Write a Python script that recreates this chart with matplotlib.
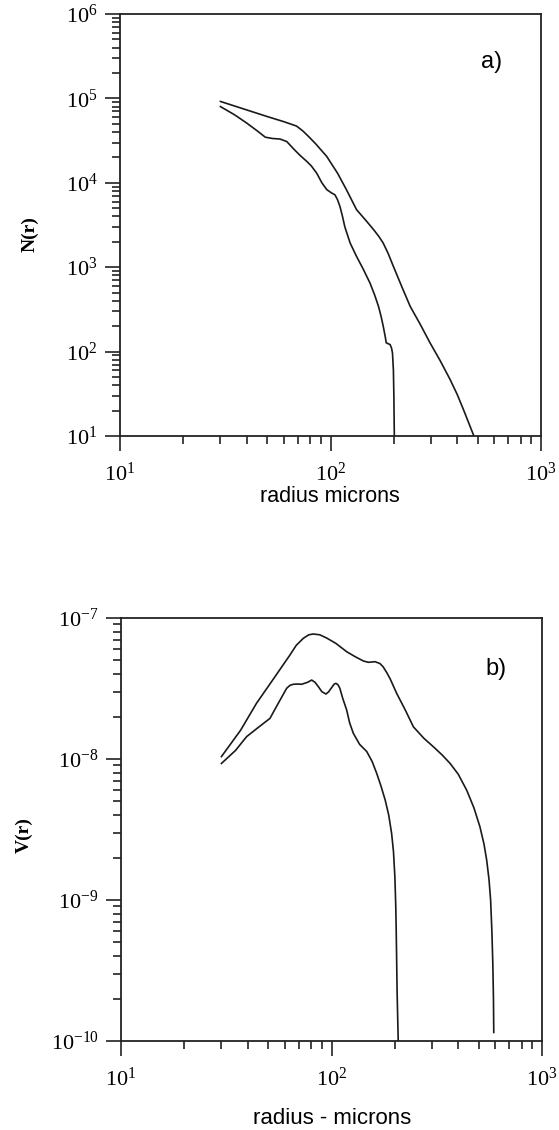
import numpy as np
import matplotlib
matplotlib.use("Agg")
import matplotlib.pyplot as plt
from matplotlib.ticker import LogLocator, FuncFormatter, NullFormatter

plt.rcParams["font.family"] = ["Liberation Serif", "DejaVu Serif"]
plt.rcParams["mathtext.fontset"] = "custom"
plt.rcParams["mathtext.rm"] = "Liberation Serif"
plt.rcParams["mathtext.it"] = "Liberation Serif:italic"
plt.rcParams["mathtext.bf"] = "Liberation Serif:bold"
plt.rcParams["axes.unicode_minus"] = False

# Panel a) number distribution N(r)
radius_n_upper = [30, 40, 50, 60, 69, 74, 79, 85, 96, 108, 119, 133, 147, 160, 170,
                  178, 188, 199, 218, 239, 267, 297, 332, 370, 400, 428, 455, 480]
n_upper = [9.2e4, 7.3e4, 6.1e4, 5.3e4, 4.7e4, 4.1e4, 3.5e4, 2.9e4, 2.05e4, 1.3e4,
           8.3e3, 4.8e3, 3.6e3, 2.8e3, 2.3e3, 1.93e3, 1.45e3, 1.02e3, 590, 344, 210,
           127, 78, 46.7, 31, 20.6, 14, 10]

radius_n_lower = [30, 35, 40, 45, 49, 53, 57.6, 62, 67, 72, 77, 81, 86, 91, 96, 101,
                  105, 108, 111, 114, 117, 124, 133, 143, 154, 162, 169, 174, 178,
                  182, 184, 188, 192, 195, 197, 199, 200, 201]
n_lower = [8.0e4, 6.4e4, 5.1e4, 4.1e4, 3.47e4, 3.35e4, 3.3e4, 3.08e4, 2.5e4, 2.09e4,
           1.8e4, 1.59e4, 1.3e4, 1.0e4, 8.3e3, 7.6e3, 7.2e3, 6.3e3, 5.2e3, 4.0e3,
           3.0e3, 1.93e3, 1.34e3, 950, 650, 470, 344, 260, 200, 150, 127, 124, 121,
           110, 96, 60, 30, 10]

# Panel b) volume distribution V(r)
radius_v_upper = [30, 37, 44, 53, 63.5, 68, 73.5, 78, 82, 88, 95, 105, 118, 130, 142,
                  150, 161, 170, 176, 183, 190, 204, 225, 245, 275, 305, 335, 366,
                  400, 439, 475, 507, 530, 546, 560, 570, 578, 584, 588, 590]
v_upper = [1.04e-8, 1.6e-8, 2.48e-8, 3.7e-8, 5.47e-8, 6.4e-8, 7.18e-8, 7.6e-8, 7.7e-8,
           7.6e-8, 7.2e-8, 6.6e-8, 5.77e-8, 5.3e-8, 4.95e-8, 4.85e-8, 4.9e-8, 4.75e-8,
           4.5e-8, 4.1e-8, 3.7e-8, 2.92e-8, 2.2e-8, 1.69e-8, 1.4e-8, 1.22e-8,
           1.07e-8, 9.3e-9, 7.8e-9, 6.0e-9, 4.5e-9, 3.31e-9, 2.5e-9, 1.92e-9,
           1.4e-9, 1.0e-9, 6e-10, 3.5e-10, 2.0e-10, 1.15e-10]

radius_v_lower = [30, 35, 39.5, 45, 51, 56, 61.2, 63.5, 65.9, 69, 72.2, 77, 80.5, 83.5,
                  86.6, 90, 94.1, 97, 100, 103, 105, 107.5, 109.6, 113, 118, 122,
                  127, 136, 147, 156, 164, 172, 180, 187, 193, 197, 200, 202, 203,
                  205, 207.5]
v_lower = [9.3e-9, 1.15e-8, 1.44e-8, 1.68e-8, 1.94e-8, 2.5e-8, 3.17e-8, 3.33e-8,
           3.39e-8, 3.4e-8, 3.39e-8, 3.5e-8, 3.63e-8, 3.5e-8, 3.26e-8, 3.0e-8,
           2.89e-8, 3.0e-8, 3.2e-8, 3.4e-8, 3.44e-8, 3.35e-8, 3.17e-8, 2.7e-8,
           2.23e-8, 1.8e-8, 1.52e-8, 1.27e-8, 1.13e-8, 9.6e-9, 7.9e-9, 6.4e-9,
           5.1e-9, 4.0e-9, 2.97e-9, 2.2e-9, 1.46e-9, 9e-10, 6e-10, 2.2e-10, 1.0e-10]

x_limits = (10, 1000)
n_limits = (10, 1e6)
v_limits = (1e-10, 1e-7)

fig = plt.figure(figsize=(5.59, 11.30), dpi=100)
ax_a = fig.add_axes([120 / 559, 1 - 436 / 1130, 421 / 559, 422 / 1130])
ax_b = fig.add_axes([121 / 559, 1 - 1041 / 1130, 421 / 559, 423 / 1130])

power_fmt = FuncFormatter(lambda v, _: r"$\mathregular{10^{%d}}$" % round(np.log10(v)))


def style_axes(ax):
    ax.set_xscale("log")
    ax.set_yscale("log")
    for sp in ax.spines.values():
        sp.set_linewidth(1.3)
        sp.set_color("#222222")
    ax.xaxis.set_major_locator(LogLocator(base=10, numticks=10))
    ax.xaxis.set_minor_locator(LogLocator(base=10, subs=np.arange(2, 10), numticks=20))
    ax.yaxis.set_major_locator(LogLocator(base=10, numticks=10))
    ax.yaxis.set_minor_locator(LogLocator(base=10, subs=np.arange(2, 10), numticks=20))
    ax.xaxis.set_major_formatter(power_fmt)
    ax.yaxis.set_major_formatter(power_fmt)
    ax.xaxis.set_minor_formatter(NullFormatter())
    ax.yaxis.set_minor_formatter(NullFormatter())
    ax.tick_params(which="both", direction="out", top=False, right=False,
                   color="#222222", width=1.2)
    ax.tick_params(which="major", length=11, labelsize=16)
    ax.tick_params(which="minor", length=6)
    ax.tick_params(axis="x", which="major", pad=8)
    ax.tick_params(axis="y", which="major", pad=5)


style_axes(ax_a)
ax_a.plot(radius_n_upper, n_upper, color="#1a1a1a", lw=1.2)
ax_a.plot(radius_n_lower, n_lower, color="#1a1a1a", lw=1.2)
ax_a.set_xlim(*x_limits)
ax_a.set_ylim(*n_limits)
fig.text(492 / 559, 1 - 62 / 1130, "a)", ha="center", va="center",
         fontsize=17, family="Liberation Sans")
fig.text(30 / 559, 1 - 234 / 1130, "N(r)", rotation=90, ha="center", va="center",
         fontsize=14, fontweight="bold", family="Liberation Serif")
fig.text(330 / 559, 1 - 497 / 1130, "radius microns", ha="center", va="center",
         fontsize=15.5, family="Liberation Sans")

style_axes(ax_b)
ax_b.plot(radius_v_upper, v_upper, color="#1a1a1a", lw=1.2)
ax_b.plot(radius_v_lower, v_lower, color="#1a1a1a", lw=1.2)
ax_b.set_xlim(*x_limits)
ax_b.set_ylim(*v_limits)
fig.text(496 / 559, 1 - 669 / 1130, "b)", ha="center", va="center",
         fontsize=17, family="Liberation Sans")
fig.text(24 / 559, 1 - 835 / 1130, "V(r)", rotation=90, ha="center", va="center",
         fontsize=14, fontweight="bold", family="Liberation Serif")
fig.text(332 / 559, 1 - 1118 / 1130, "radius - microns", ha="center", va="center",
         fontsize=16, family="Liberation Sans")

fig.savefig("out.png", dpi=100, facecolor="white")
